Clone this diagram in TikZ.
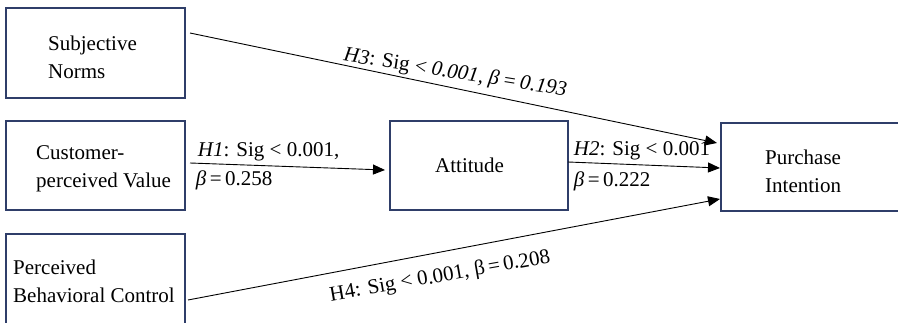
\documentclass[tikz,border=0pt]{standalone}
\usepackage{fontspec}
\setmainfont{Liberation Serif}
\usepackage{xcolor}
\usetikzlibrary{arrows.meta,calc,positioning}
\definecolor{boxblue}{RGB}{47,62,105}

\begin{document}
\begin{tikzpicture}[x=1pt,y=1pt,
    box/.style={draw=boxblue, line width=1.6pt, inner sep=0pt, outer sep=0pt},
    boxtxt/.style={font=\fontsize{21}{28}\selectfont, inner sep=0pt, align=left},
    lbl/.style={font=\fontsize{21}{28}\selectfont, inner sep=1.5pt},
    link/.style={line width=0.9pt, -{Triangle[length=12pt,width=10pt]}}]
    \useasboundingbox (0,0) rectangle (898,322);
    % constructs
    \node[box, minimum width=179pt, minimum height=90pt] (sn)  at (95.5,269)  {};
    \node[box, minimum width=179pt, minimum height=89pt] (cv)  at (95.5,156.5) {};
    \node[box, minimum width=179pt, minimum height=90pt] (pbc) at (95.5,43)   {};
    \node[box, minimum width=178pt, minimum height=89pt] (att) at (479,156.5) {};
    \node[box, minimum width=180pt, minimum height=88pt] (pi)  at (811,155)   {};
    % construct names
    \node[boxtxt, right=42pt of sn.west, yshift=-4pt]  (snT)  {Subjective\\Norms};
    \node[boxtxt, right=30pt of cv.west, yshift=-3pt]  (cvT)  {Customer-\\perceived Value};
    \node[boxtxt, right=7pt of pbc.west, yshift=-2pt]  (pbcT) {Perceived\\Behavioral Control};
    \node[boxtxt, right=45pt of att.west]              (attT) {Attitude};
    \node[boxtxt, right=44pt of pi.west, yshift=-4pt, align=center] (piT) {Purchase\\Intention};
    % hypotheses
    \draw[link] ($(sn.east)+(5,20)$) -- ($(pi.west)+(-4,24)$)
      node[lbl, pos=0.5, above=3pt, rotate=-9] (h3)
      {\textit{H3}: Sig < \textit{0.001, β\,=\,0.193}};
    \draw[link] ($(cv.east)+(5,2.5)$) -- ($(att.west)+(-5,-4.5)$)
      node[lbl, pos=0, anchor=south west, xshift=6pt] (h1a) {\textit{H1}: Sig < 0.001,}
      node[lbl, pos=0, anchor=north west, xshift=4pt, yshift=-6pt] (h1b) {\textit{β}\,=\,0.258};
    \draw[link] ($(att.east)+(0,3.5)$) -- ($(pi.west)+(-1,-1)$)
      node[lbl, pos=0, anchor=south west, xshift=4pt] (h2a) {\textit{H2}: Sig < 0.001}
      node[lbl, pos=0, anchor=north west, xshift=4pt, yshift=-8pt] (h2b) {\textit{β}\,=\,0.222};
    \draw[link] ($(pbc.east)+(3,-21)$) -- ($(pi.west)+(-1,-32)$)
      node[lbl, pos=0.47, below=13pt, rotate=10] (h4)
      {H4: Sig < 0.001, β\,=\,0.208};
\end{tikzpicture}
\end{document}
